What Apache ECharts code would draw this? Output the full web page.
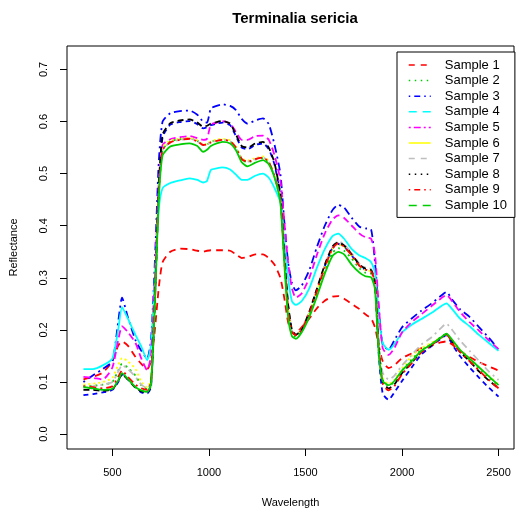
<!DOCTYPE html>
<html>
<head>
<meta charset="utf-8">
<title>Terminalia sericia</title>
<script src="https://cdn.jsdelivr.net/npm/echarts@6/dist/echarts.min.js"></script>
<style>
  html, body { margin: 0; padding: 0; background: #fff; }
  #main { width: 516px; height: 510px; }
</style>
</head>
<body>
<div id="main"></div>
<script>
// wavelength grid (nm)
var wavelength = [350, 400, 450, 500, 530, 550, 580, 620, 650, 680,
  700, 720, 740, 760, 800, 850, 900, 940, 970, 990,
  1010, 1040, 1070, 1110, 1140, 1170, 1200, 1240, 1280, 1310,
  1340, 1370, 1390, 1410, 1430, 1450, 1480, 1520, 1560, 1600,
  1640, 1670, 1700, 1740, 1780, 1810, 1840, 1860, 1880, 1900,
  1930, 1960, 2000, 2050, 2100, 2150, 2200, 2230, 2260, 2300,
  2350, 2400, 2450, 2500];

var sample1 = [0.105, 0.110, 0.118, 0.140, 0.170, 0.178, 0.170, 0.148, 0.135, 0.125,
  0.140, 0.200, 0.280, 0.330, 0.350, 0.356, 0.355, 0.352, 0.350, 0.352,
  0.353, 0.353, 0.353, 0.352, 0.345, 0.338, 0.340, 0.345, 0.345, 0.338,
  0.325, 0.300, 0.262, 0.215, 0.195, 0.194, 0.205, 0.222, 0.242, 0.256,
  0.264, 0.265, 0.260, 0.250, 0.240, 0.230, 0.222, 0.205, 0.170, 0.140,
  0.127, 0.132, 0.146, 0.155, 0.165, 0.170, 0.176, 0.178, 0.172, 0.160,
  0.148, 0.138, 0.130, 0.122];
var sample2 = [0.092, 0.093, 0.095, 0.100, 0.122, 0.135, 0.128, 0.112, 0.094, 0.087,
  0.100, 0.258, 0.458, 0.546, 0.562, 0.566, 0.568, 0.563, 0.555, 0.556,
  0.561, 0.564, 0.565, 0.562, 0.550, 0.527, 0.522, 0.527, 0.530, 0.521,
  0.494, 0.448, 0.336, 0.234, 0.192, 0.187, 0.198, 0.229, 0.270, 0.314,
  0.348, 0.357, 0.352, 0.337, 0.318, 0.310, 0.308, 0.285, 0.160, 0.104,
  0.093, 0.100, 0.122, 0.143, 0.162, 0.173, 0.186, 0.192, 0.180, 0.161,
  0.143, 0.126, 0.109, 0.093];
var sample3 = [0.100, 0.113, 0.125, 0.140, 0.215, 0.262, 0.225, 0.180, 0.160, 0.145,
  0.180, 0.330, 0.520, 0.600, 0.616, 0.620, 0.621, 0.613, 0.600, 0.598,
  0.625, 0.630, 0.633, 0.630, 0.622, 0.605, 0.596, 0.602, 0.606, 0.595,
  0.555, 0.500, 0.410, 0.330, 0.290, 0.276, 0.285, 0.315, 0.360, 0.400,
  0.430, 0.440, 0.435, 0.415, 0.398, 0.395, 0.393, 0.330, 0.240, 0.172,
  0.162, 0.180, 0.205, 0.222, 0.237, 0.250, 0.265, 0.273, 0.258, 0.240,
  0.225, 0.205, 0.185, 0.162];
var sample4 = [0.125, 0.125, 0.132, 0.145, 0.200, 0.244, 0.222, 0.190, 0.168, 0.142,
  0.170, 0.300, 0.430, 0.472, 0.482, 0.487, 0.491, 0.488, 0.483, 0.486,
  0.507, 0.510, 0.512, 0.508, 0.498, 0.488, 0.488, 0.496, 0.500, 0.492,
  0.472, 0.445, 0.370, 0.300, 0.255, 0.248, 0.255, 0.280, 0.320, 0.355,
  0.380, 0.385, 0.375, 0.355, 0.343, 0.338, 0.330, 0.310, 0.230, 0.175,
  0.162, 0.172, 0.195, 0.210, 0.221, 0.232, 0.245, 0.251, 0.240, 0.222,
  0.207, 0.190, 0.175, 0.160];
var sample5 = [0.110, 0.108, 0.105, 0.128, 0.180, 0.207, 0.196, 0.175, 0.145, 0.123,
  0.150, 0.300, 0.480, 0.555, 0.566, 0.570, 0.572, 0.568, 0.565, 0.567,
  0.594, 0.598, 0.601, 0.596, 0.580, 0.565, 0.565, 0.572, 0.573, 0.565,
  0.535, 0.487, 0.410, 0.330, 0.280, 0.262, 0.270, 0.300, 0.345, 0.385,
  0.412, 0.420, 0.415, 0.400, 0.385, 0.378, 0.375, 0.345, 0.245, 0.165,
  0.152, 0.165, 0.195, 0.215, 0.230, 0.245, 0.260, 0.267, 0.255, 0.235,
  0.215, 0.198, 0.180, 0.163];
var sample6 = [0.095, 0.097, 0.100, 0.108, 0.133, 0.146, 0.140, 0.125, 0.100, 0.090,
  0.105, 0.260, 0.460, 0.550, 0.564, 0.567, 0.569, 0.564, 0.556, 0.557,
  0.562, 0.565, 0.567, 0.564, 0.552, 0.530, 0.525, 0.530, 0.533, 0.524,
  0.497, 0.452, 0.342, 0.240, 0.196, 0.191, 0.201, 0.233, 0.276, 0.320,
  0.356, 0.365, 0.359, 0.342, 0.322, 0.315, 0.312, 0.290, 0.165, 0.108,
  0.096, 0.104, 0.127, 0.150, 0.165, 0.175, 0.185, 0.190, 0.180, 0.162,
  0.145, 0.128, 0.112, 0.095];
var sample7 = [0.090, 0.092, 0.095, 0.100, 0.120, 0.132, 0.125, 0.110, 0.095, 0.088,
  0.100, 0.260, 0.460, 0.545, 0.560, 0.565, 0.567, 0.562, 0.555, 0.556,
  0.560, 0.563, 0.565, 0.562, 0.550, 0.528, 0.523, 0.528, 0.531, 0.522,
  0.495, 0.450, 0.345, 0.245, 0.198, 0.192, 0.202, 0.235, 0.280, 0.325,
  0.360, 0.370, 0.364, 0.347, 0.327, 0.320, 0.317, 0.295, 0.175, 0.118,
  0.105, 0.112, 0.132, 0.152, 0.172, 0.185, 0.203, 0.212, 0.200, 0.180,
  0.160, 0.140, 0.120, 0.104];
var sample8 = [0.085, 0.085, 0.083, 0.086, 0.102, 0.115, 0.105, 0.089, 0.082, 0.080,
  0.095, 0.260, 0.470, 0.575, 0.597, 0.602, 0.604, 0.598, 0.590, 0.592,
  0.596, 0.599, 0.601, 0.596, 0.575, 0.553, 0.550, 0.558, 0.561, 0.550,
  0.520, 0.460, 0.350, 0.250, 0.200, 0.191, 0.200, 0.235, 0.280, 0.325,
  0.360, 0.368, 0.362, 0.345, 0.325, 0.318, 0.315, 0.292, 0.165, 0.100,
  0.088, 0.095, 0.117, 0.137, 0.158, 0.170, 0.185, 0.192, 0.178, 0.158,
  0.140, 0.120, 0.103, 0.088];
var sample9 = [0.092, 0.090, 0.088, 0.092, 0.110, 0.122, 0.110, 0.095, 0.088, 0.085,
  0.100, 0.260, 0.460, 0.545, 0.560, 0.565, 0.567, 0.562, 0.555, 0.556,
  0.560, 0.563, 0.565, 0.562, 0.550, 0.528, 0.523, 0.528, 0.531, 0.522,
  0.495, 0.450, 0.340, 0.240, 0.196, 0.190, 0.200, 0.232, 0.275, 0.320,
  0.356, 0.366, 0.360, 0.343, 0.323, 0.316, 0.313, 0.290, 0.160, 0.097,
  0.084, 0.092, 0.115, 0.136, 0.157, 0.170, 0.184, 0.191, 0.177, 0.158,
  0.140, 0.122, 0.104, 0.088];
var sample10 = [0.090, 0.088, 0.085, 0.087, 0.103, 0.117, 0.106, 0.090, 0.084, 0.081,
  0.095, 0.250, 0.450, 0.535, 0.552, 0.556, 0.558, 0.553, 0.542, 0.546,
  0.553, 0.558, 0.561, 0.558, 0.545, 0.522, 0.514, 0.521, 0.526, 0.518,
  0.492, 0.445, 0.330, 0.225, 0.188, 0.183, 0.195, 0.225, 0.265, 0.308,
  0.342, 0.350, 0.345, 0.325, 0.310, 0.303, 0.301, 0.278, 0.155, 0.102,
  0.094, 0.102, 0.122, 0.140, 0.160, 0.172, 0.185, 0.193, 0.181, 0.162,
  0.145, 0.128, 0.111, 0.094];
// extra curve in the plot that is not listed in the legend
var sample11 = [0.075, 0.077, 0.080, 0.085, 0.100, 0.115, 0.105, 0.090, 0.080, 0.078,
  0.090, 0.250, 0.460, 0.570, 0.594, 0.599, 0.601, 0.595, 0.587, 0.589,
  0.593, 0.596, 0.598, 0.593, 0.572, 0.550, 0.547, 0.555, 0.558, 0.547,
  0.517, 0.457, 0.347, 0.247, 0.198, 0.190, 0.199, 0.233, 0.278, 0.322,
  0.357, 0.365, 0.360, 0.343, 0.323, 0.316, 0.313, 0.285, 0.150, 0.078,
  0.066, 0.080, 0.102, 0.128, 0.153, 0.168, 0.183, 0.190, 0.172, 0.150,
  0.128, 0.108, 0.089, 0.072];

var names = ['Sample 1', 'Sample 2', 'Sample 3', 'Sample 4', 'Sample 5',
  'Sample 6', 'Sample 7', 'Sample 8', 'Sample 9', 'Sample 10'];
var xTicks = [500, 1000, 1500, 2000, 2500];
var yTicks = [0, 0.1, 0.2, 0.3, 0.4, 0.5, 0.6, 0.7];

var values = [sample1, sample2, sample3, sample4, sample5,
  sample6, sample7, sample8, sample9, sample10];
var colors = ['#ff0000', '#00cd00', '#0000ff', '#00ffff', '#ff00ff',
  '#ffff00', '#bebebe', '#000000', '#ff0000', '#00cd00'];
// how the curves look in the plot
var plotDash = [[7, 5], [2, 4], [2, 4, 8, 4], 'solid', [7, 4],
  [2, 3], [2, 4, 7, 4], [6, 4], [2, 4, 7, 4], 'solid'];
// how the keys look in the legend
var legendDash = [[6, 6], [1.5, 4.5], [1.5, 4, 6, 4], [8, 6], [2, 3, 7, 3],
  'solid', [6, 6], [1.5, 4.5], [1.5, 4, 6, 4], [8, 6]];

function pairs(arr) {
  return wavelength.map(function (w, i) { return [w, arr[i]]; });
}

var series = [{
  name: 'extra',
  type: 'line',
  symbol: 'none',
  smooth: 0.2,
  lineStyle: { color: '#0000ff', width: 1.8, type: [5, 4] },
  data: pairs(sample11)
}];
for (var i = 0; i < values.length; i++) {
  series.push({
    name: names[i],
    type: 'line',
    symbol: 'none',
    smooth: 0.2,
    color: colors[i],
    lineStyle: { color: colors[i], width: 1.8, type: plotDash[i] },
    data: pairs(values[i])
  });
}

var legendData = names.map(function (n, i) {
  return { name: n, lineStyle: { type: legendDash[i], width: 1.5 }, itemStyle: { opacity: 0 } };
});

var fontName = 'Liberation Sans';

var chart = echarts.init(document.getElementById('main'));
chart.setOption({
  animation: false,
  title: {
    text: 'Terminalia sericia',
    left: 290,
    textAlign: 'center',
    top: 6,
    textStyle: { fontFamily: fontName, fontSize: 15, fontWeight: 'bold', color: '#000' }
  },
  legend: {
    data: legendData,
    orient: 'vertical',
    left: 397,
    top: 52,
    padding: [6, 8, 5, 11],
    itemWidth: 22,
    itemHeight: 14,
    itemGap: 1.6,
    itemStyle: { opacity: 0 },
    borderColor: '#000',
    borderWidth: 1,
    backgroundColor: '#fff',
    selectedMode: false,
    textStyle: { fontFamily: fontName, fontSize: 13, color: '#000', padding: [0, 0, 0, 9], lineHeight: 14 }
  },
  grid: {
    left: 67, right: 2, top: 46, bottom: 61,
    outerBoundsMode: 'none',
    show: true, borderColor: '#000', borderWidth: 1
  },
  xAxis: {
    type: 'value',
    min: 265, max: 2580,
    name: 'Wavelength',
    nameLocation: 'middle',
    nameGap: 48,
    nameTextStyle: { fontFamily: fontName, fontSize: 11, color: '#000' },
    axisLine: { show: false, onZero: false },
    splitLine: { show: false },
    axisTick: { show: true, length: 7, lineStyle: { color: '#000' }, customValues: xTicks },
    axisLabel: {
      show: true, margin: 18, fontFamily: fontName, fontSize: 11, color: '#000',
      customValues: xTicks,
      formatter: function (v) { return String(v); }
    }
  },
  yAxis: {
    type: 'value',
    min: -0.0285, max: 0.745,
    name: 'Reflectance',
    nameLocation: 'middle',
    nameGap: 48,
    nameTextStyle: { fontFamily: fontName, fontSize: 11, color: '#000' },
    axisLine: { show: false, onZero: false },
    splitLine: { show: false },
    axisTick: { show: true, length: 7, lineStyle: { color: '#000' }, customValues: yTicks },
    axisLabel: {
      show: true, rotate: 90, margin: 18, fontFamily: fontName, fontSize: 11, color: '#000',
      customValues: yTicks,
      formatter: function (v) { return v.toFixed(1); }
    }
  },
  series: series
});
</script>
</body>
</html>
